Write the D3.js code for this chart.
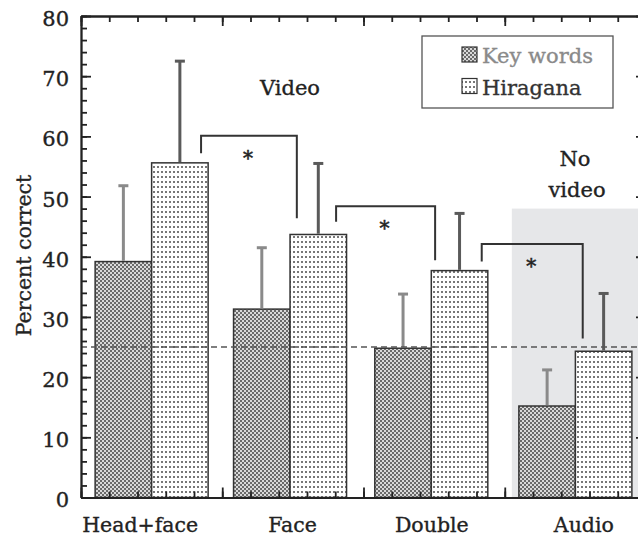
<!DOCTYPE html>
<html><head><meta charset="utf-8">
<script src="https://cdn.jsdelivr.net/npm/d3@7"></script>
<style>body{margin:0;background:#fff} svg{display:block}</style>
</head><body>
<svg id="chart" width="638" height="537"></svg>
<script>
// ---------------- data ----------------
const categories = ["Head+face", "Face", "Double", "Audio"];
const groupPos = [0.5, 1.48, 2.48, 3.5];          // category centres on the x scale
const series = ["Key words", "Hiragana"];
const keyWords = [39.2, 31.3, 24.8, 15.2];
const keyWordsErrTop = [51.8, 41.5, 33.8, 21.2];
const hiragana = [55.6, 43.7, 37.7, 24.3];
const hiraganaErrTop = [72.5, 55.5, 47.2, 33.9];
const chanceLevel = 25;
const noVideoX = [3.05, 4];
const noVideoTop = 48;
const bracketX0 = [0.85, 1.806, 2.837];
const bracketX1 = [1.528, 2.507, 3.552];
const bracketTop = [60.1, 48.4, 42.1];
const bracketLeftEnd = [57.2, 45.8, 39.2];
const bracketRightEnd = [46.4, 39.4, 26.4];
const yMajorTicks = [0, 10, 20, 30, 40, 50, 60, 70, 80];
const yMinorTicks = d3.range(0, 80.001, 2);
const xMajorTicks = [0, 1, 2, 3, 4];
const xMinorTicks = d3.range(0, 4.001, 0.2);

// ---------------- layout ----------------
const svg = d3.select("#chart");
const FONT = "DejaVu Serif";
const x = d3.scaleLinear().domain([0, 4]).range([81, 646]);
const y = d3.scaleLinear().domain([0, 80]).range([497.5, 16]);
const barW = 0.4;
const labelNudge = [-12, 2, 0, 8];
const TXT_STROKE = 0.35;

const defs = svg.append("defs");
const pk = defs.append("pattern").attr("id", "kw").attr("patternUnits", "userSpaceOnUse")
  .attr("width", 4).attr("height", 4);
pk.append("rect").attr("width", 4).attr("height", 4).attr("fill", "#d9d9d9");
pk.append("rect").attr("width", 2).attr("height", 2).attr("fill", "#6a6a6a");
pk.append("rect").attr("x", 2).attr("y", 2).attr("width", 2).attr("height", 2).attr("fill", "#6a6a6a");
const ph = defs.append("pattern").attr("id", "hg").attr("patternUnits", "userSpaceOnUse")
  .attr("width", 4).attr("height", 5);
ph.append("rect").attr("width", 4).attr("height", 5).attr("fill", "#ffffff");
ph.append("rect").attr("x", 1).attr("y", 1).attr("width", 2).attr("height", 2).attr("fill", "#777");

// no-video region
svg.append("rect")
  .attr("x", x(noVideoX[0])).attr("y", y(noVideoTop))
  .attr("width", x(noVideoX[1]) - x(noVideoX[0])).attr("height", y(0) - y(noVideoTop))
  .attr("fill", "#e6e7e9");

// bars
const rows = categories.map((c, i) => ({c, pos: groupPos[i], kw: keyWords[i], kwE: keyWordsErrTop[i], hg: hiragana[i], hgE: hiraganaErrTop[i]}));
const gb = svg.append("g");
gb.selectAll(".kw").data(rows).join("rect")
  .attr("x", d => x(d.pos - barW)).attr("y", d => y(d.kw))
  .attr("width", d => x(d.pos) - x(d.pos - barW)).attr("height", d => y(0) - y(d.kw))
  .attr("fill", "url(#kw)").attr("stroke", "#333").attr("stroke-width", 1.5);
gb.selectAll(".hg").data(rows).join("rect")
  .attr("x", d => x(d.pos)).attr("y", d => y(d.hg))
  .attr("width", d => x(d.pos + barW) - x(d.pos)).attr("height", d => y(0) - y(d.hg))
  .attr("fill", "url(#hg)").attr("stroke", "#333").attr("stroke-width", 1.5);

// error bars
function errBars(acc, accE, off, color) {
  const g = svg.append("g").attr("stroke", color).attr("stroke-width", 3);
  g.selectAll("line.v").data(rows).join("line")
    .attr("x1", d => x(d.pos + off)).attr("x2", d => x(d.pos + off))
    .attr("y1", d => y(acc(d)) - 0.75).attr("y2", d => y(accE(d)));
  g.selectAll("line.h").data(rows).join("line")
    .attr("x1", d => x(d.pos + off) - 5).attr("x2", d => x(d.pos + off) + 5)
    .attr("y1", d => y(accE(d))).attr("y2", d => y(accE(d)));
}
errBars(d => d.kw, d => d.kwE, -barW / 2, "#8a8a8a");
errBars(d => d.hg, d => d.hgE, barW / 2, "#5a5a5a");

// chance line
svg.append("line").attr("x1", x(0)).attr("x2", x(4)).attr("y1", y(chanceLevel)).attr("y2", y(chanceLevel))
  .attr("stroke", "#555").attr("stroke-width", 1.5).attr("stroke-dasharray", "6,4");

// brackets
const br = bracketX0.map((x0, i) => ({x0, x1: bracketX1[i], t: bracketTop[i], l: bracketLeftEnd[i], r: bracketRightEnd[i]}));
svg.append("g").selectAll("path").data(br).join("path")
  .attr("d", d => `M${x(d.x0)},${y(d.l)}V${y(d.t)}H${x(d.x1)}V${y(d.r)}`)
  .attr("fill", "none").attr("stroke", "#333").attr("stroke-width", 2);
svg.append("g").selectAll("text").data(br).join("text")
  .attr("x", d => (x(d.x0) + x(d.x1)) / 2 - 1).attr("y", d => y(d.t) + 29)
  .attr("text-anchor", "middle").attr("font-family", FONT).attr("font-size", 20).attr("fill", "#222")
  .attr("stroke", "#222").attr("stroke-width", 0.5)
  .text("*");

// axes
function styleAxis(g) {
  g.selectAll("line").attr("stroke", "#222").attr("stroke-width", 1.8);
  g.selectAll("path").attr("stroke", "#222").attr("stroke-width", 1.8);
  g.selectAll("text").attr("font-family", FONT).attr("font-size", 21).attr("fill", "#222")
    .attr("stroke", "#222").attr("stroke-width", TXT_STROKE);
}
const pBottom = y(0), pTop = y(80), pLeft = x(0), pRight = x(4);
[[d3.axisBottom(x).tickValues(xMinorTicks).tickSizeInner(-6), `translate(0,${pBottom})`],
 [d3.axisTop(x).tickValues(xMinorTicks).tickSizeInner(-6), `translate(0,${pTop})`],
 [d3.axisLeft(y).tickValues(yMinorTicks).tickSizeInner(-6), `translate(${pLeft},0)`],
 [d3.axisRight(y).tickValues(yMinorTicks).tickSizeInner(-6), `translate(${pRight},0)`],
 [d3.axisBottom(x).tickValues(xMajorTicks).tickSizeInner(-10), `translate(0,${pBottom})`],
 [d3.axisTop(x).tickValues(xMajorTicks).tickSizeInner(-10), `translate(0,${pTop})`],
 [d3.axisRight(y).tickValues(yMajorTicks).tickSizeInner(-10), `translate(${pRight},0)`]
].forEach(([ax, tr]) => {
  const g = svg.append("g").attr("transform", tr).call(ax.tickSizeOuter(0).tickFormat(""));
  styleAxis(g);
});
const yAx = svg.append("g").attr("transform", `translate(${pLeft},0)`)
  .call(d3.axisLeft(y).tickValues(yMajorTicks).tickSizeInner(-10).tickSizeOuter(0).tickPadding(12));
styleAxis(yAx);
yAx.selectAll("text").attr("dy", "0.45em");

// category labels
const xl = svg.append("g").attr("transform", `translate(0,${pBottom})`)
  .call(d3.axisBottom(x).tickValues(groupPos).tickSize(0).tickPadding(0)
    .tickFormat((d, i) => categories[i]));
xl.select(".domain").remove();
styleAxis(xl);
xl.selectAll("text").attr("font-size", 20.5).attr("dy", 0).attr("y", 34.5)
  .attr("transform", (d, i) => `translate(${labelNudge[i]},0)`);

// y title
svg.append("text").attr("transform", `translate(31,${255.5}) rotate(-90)`)
  .attr("text-anchor", "middle").attr("font-family", FONT).attr("font-size", 20.5).attr("fill", "#222")
  .attr("stroke", "#222").attr("stroke-width", TXT_STROKE)
  .text("Percent correct");

// annotations
svg.append("text").attr("x", 290).attr("y", 95).attr("text-anchor", "middle")
  .attr("font-family", FONT).attr("font-size", 21).attr("fill", "#222")
  .attr("stroke", "#222").attr("stroke-width", TXT_STROKE).text("Video");
const nv = svg.append("text").attr("text-anchor", "middle")
  .attr("font-family", FONT).attr("font-size", 21).attr("fill", "#222")
  .attr("stroke", "#222").attr("stroke-width", TXT_STROKE);
nv.append("tspan").attr("x", 575).attr("y", 166).text("No");
nv.append("tspan").attr("x", 577).attr("y", 197).text("video");

// legend
const lg = svg.append("g");
lg.append("rect").attr("x", 422).attr("y", 36).attr("width", 191).attr("height", 72)
  .attr("fill", "#fff").attr("stroke", "#555").attr("stroke-width", 1.3);
const legendItems = [{name: series[0], fill: "url(#kw)", color: "#8a8a8a"}, {name: series[1], fill: "url(#hg)", color: "#333"}];
lg.selectAll("rect.sw").data(legendItems).join("rect").attr("class", "sw")
  .attr("x", 462).attr("y", (d, i) => 47 + i * 31.5).attr("width", 15).attr("height", 15)
  .attr("fill", d => d.fill).attr("stroke", "#333").attr("stroke-width", 1.2);
lg.selectAll("text").data(legendItems).join("text")
  .attr("x", 482).attr("y", (d, i) => 63 + i * 32)
  .attr("font-family", FONT).attr("font-size", 21).attr("fill", d => d.color)
  .attr("stroke", d => d.color).attr("stroke-width", TXT_STROKE).text(d => d.name);
</script>
</body></html>
